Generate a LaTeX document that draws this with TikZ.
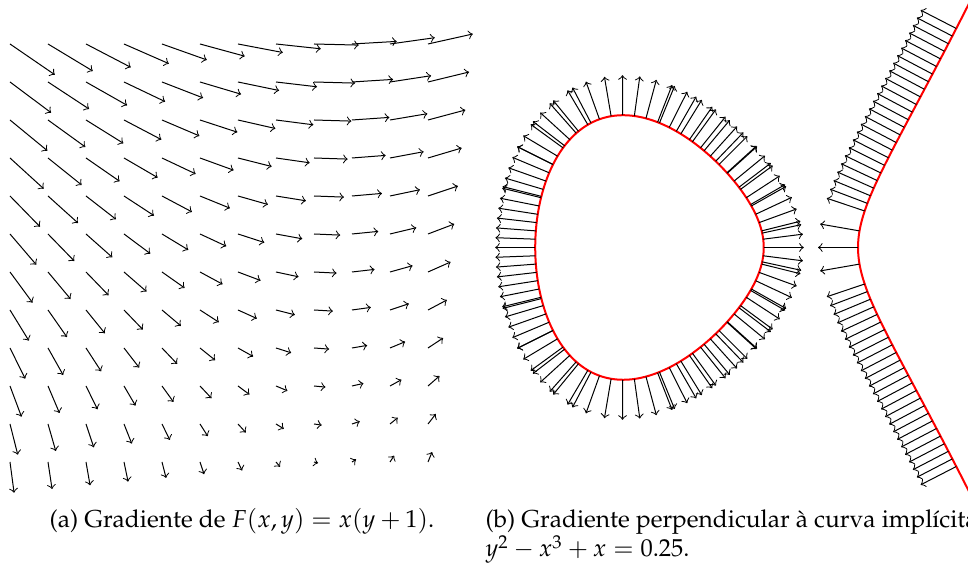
\documentclass[tikz,border=0pt]{standalone}
\usepackage[T1]{fontenc}
\usepackage{mathpazo}
\newcommand\arrowat[2]{%
  \pgfmathsetmacro\gradx{1-3*(#1)*(#1)}%
  \pgfmathsetmacro\grady{2*(#2)}%
  \pgfmathsetmacro\gradn{0.241/sqrt((\gradx)*(\gradx)+(\grady)*(\grady))}%
  \draw[vec] (#1,#2) -- ++({(\gradx)*\gradn},{(\grady)*\gradn});%
}
% largest real root of x^3 - x + (0.25 - y^2) = 0, stored in \brx
\newcommand\branchx[1]{%
  \pgfmathsetmacro\qa{-2.598076*(0.25-(#1)*(#1))}%
  \ifdim\qa pt>1pt
    \pgfmathsetmacro\brx{1.154701*cosh(ln(\qa+sqrt((\qa)*(\qa)-1))/3)}%
  \else
    \pgfmathsetmacro\brx{1.154701*cos(acos(\qa)/3)}%
  \fi
}
\begin{document}
\begin{tikzpicture}[x=0.4pt,y=-0.4pt,
  vec/.style={->,line width=0.4pt},
  curve/.style={red,line width=0.8pt},
  captext/.style={inner sep=0pt,font=\fontsize{9.8}{11.8}\selectfont}]
\useasboundingbox (0,0) rectangle (968,564);
\clip (0,0) rectangle (968,564);
% (a) gradient field of F(x,y)=x(y+1)
\foreach \i in {0,...,11}{
  \foreach \j in {0,...,11}{
    \pgfmathsetmacro\vu{3.7*(12.1-\j)}
    \pgfmathsetmacro\vw{3.7*(8.3-\i)}
    \draw[vec] ({10+38*\i},{44+38*\j}) -- ++(\vu,\vw);
  }
}
% (b) implicit curve and normalized gradients
\begin{scope}[shift={(719,247.5)},x=66.4pt,y=66.4pt]
  \draw[curve] plot[domain=-90:270,samples=241,variable=\p]
    ({1.154701*cos(acos(min(1,max(-1,-2.598076*(0.25-0.634906*sin(\p)*sin(\p)))))/3-ifthenelse(\p<90,120,240))},
     {0.79681*sin(\p)}) -- cycle;
  \draw[curve] plot[domain=-0.86:0.86,samples=201,variable=\s]
    ({0.83756+\s*\s},{sign(\s)*sqrt(max(0,(0.83756+\s*\s)^3-(0.83756+\s*\s)+0.25))});
  % oval: crossings with horizontal lines
  \foreach \k in {-15,...,15}{
    \pgfmathsetmacro\yyv{0.05*\k}
    \pgfmathsetmacro\qa{-2.598076*(0.25-(\yyv)*(\yyv))}
    \pgfmathsetmacro\tht{acos(\qa)/3}
    \pgfmathsetmacro\xrb{1.154701*cos(\tht-120)}
    \pgfmathsetmacro\xrc{1.154701*cos(\tht-240)}
    \arrowat{\xrb}{\yyv}
    \arrowat{\xrc}{\yyv}
  }
  % oval: crossings with vertical lines
  \foreach \k in {-7,...,12}{
    \pgfmathsetmacro\xv{-0.58+0.07*\k}
    \pgfmathsetmacro\fv{(\xv)*(\xv)*(\xv)-(\xv)+0.25}
    \ifdim\fv pt>0pt
      \pgfmathsetmacro\yv{sqrt(\fv)}
      \arrowat{\xv}{\yv}
      \arrowat{\xv}{-\yv}
    \fi
  }
  % right branch: evenly spaced in y
  \foreach \yyv in {0,0.1,-0.1}{
    \branchx{\yyv}
    \arrowat{\brx}{\yyv}
  }
  \foreach \m in {0,...,24}{
    \pgfmathsetmacro\yyv{0.22+0.0458*\m}
    \branchx{\yyv}
    \arrowat{\brx}{\yyv}
    \arrowat{\brx}{-\yyv}
  }
\end{scope}
% captions
\node[captext,anchor=base] (capa) at (242,528) {(a) Gradiente de $F(x,y)=x(y+1)$.};
\node[captext,anchor=base west] (capb) at (485,528) {(b) Gradiente perpendicular \`a curva impl\'{\i}cita};
\node[captext,anchor=base west] (capc) at (485,557) {$y^2-x^3+x=0.25$.};
\end{tikzpicture}
\end{document}
